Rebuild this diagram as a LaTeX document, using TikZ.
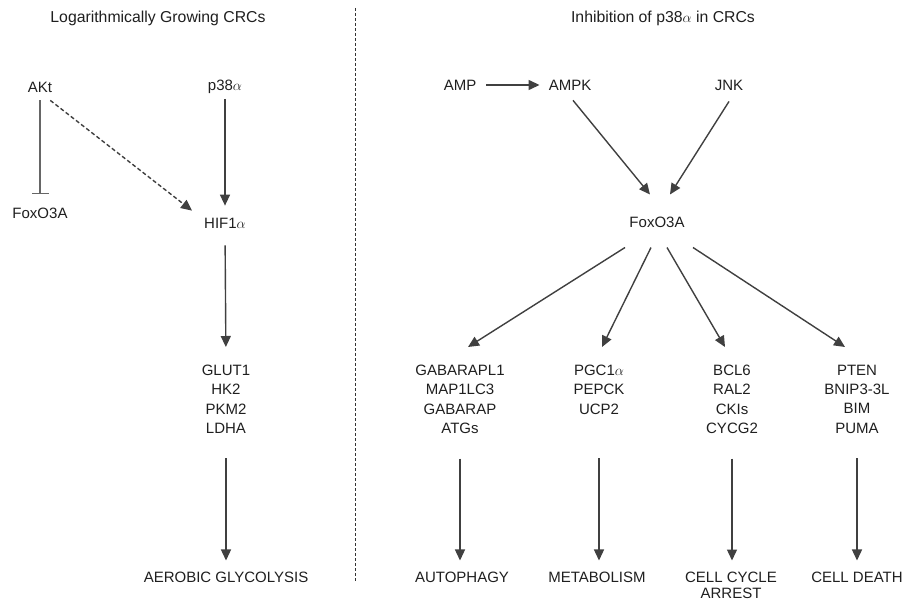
\documentclass[tikz,border=0pt]{standalone}
\usepackage{fontspec}
\setmainfont{Liberation Sans}
\usetikzlibrary{arrows.meta, positioning}

\begin{document}
\begin{tikzpicture}[x=1pt, y=-1pt,
      every node/.style={inner sep=0pt, text=black!88, font=\fontsize{15}{19.2}\selectfont},
      title/.style={font=\fontsize{15.8}{19}\selectfont},
      genelist/.style={align=center, anchor=north},
      arr/.style={-{Triangle[length=11pt, width=10pt]}, line width=1.4pt, draw=black!75},
      inh/.style={-{Bar[width=17pt, line width=1.4pt]}, line width=1.4pt, draw=black!60},
      divider/.style={draw=black!80, line width=0.8pt, dash pattern=on 3pt off 2pt}
    ]
    \useasboundingbox (0,0) rectangle (910,601);
    \node[title] (titleL) at (158,18) {Logarithmically Growing CRCs};
    \node[title] (titleR) at (663,18) {Inhibition of p38$\alpha$ in CRCs};
    \draw[divider] (355,8) -- (355,582);

    % growing cells
    \node (akt) at (40,87) {AKt};
    \node (p38) at (225,87) {p38$\alpha$};
    \node (foxL) at (40,213) {FoxO3A};
    \node (hif) at (225,223) {HIF1$\alpha$};
    \node[genelist] (glut) at (226,365) {GLUT1\\HK2\\PKM2\\LDHA};
    \node (aerobic) at (226,577) {AEROBIC GLYCOLYSIS};
    \draw[inh, shorten <=8pt, shorten >=13pt] (akt.south) -- (foxL.north);
    \draw[arr, dash pattern=on 4pt off 2.5pt] ([shift={(-2pt,-8pt)}]akt.south east) -- ([shift={(-12pt,7pt)}]hif.north west);
    \draw[arr, shorten <=5pt, shorten >=12pt] (p38.south) -- (hif.north);
    \draw[arr, shorten <=17pt, shorten >=18pt] (hif.south) -- (glut.north);
    \draw[arr, shorten <=25pt, shorten >=11pt] (glut.south) -- (aerobic.north);

    % p38 inhibited
    \node (amp) at (460,85) {AMP};
    \node (ampk) at (570,85) {AMPK};
    \node (jnk) at (729,85) {JNK};
    \node (fox) at (657,222) {FoxO3A};
    \node[genelist] (gab) at (460,365) {GABARAPL1\\MAP1LC3\\GABARAP\\ATGs};
    \node[genelist] (pgc) at (599,365) {PGC1$\alpha$\\PEPCK\\UCP2};
    \node[genelist] (bcl) at (732,365) {BCL6\\RAL2\\CKIs\\CYCG2};
    \node[genelist] (pten) at (857,365) {PTEN\\BNIP3-3L\\BIM\\PUMA};
    \node (autoph) at (462,577) {AUTOPHAGY};
    \node (metab) at (597,577) {METABOLISM};
    \node[genelist, font=\fontsize{15}{16.5}\selectfont] (cycle) at (731,571.5) {CELL CYCLE\\ARREST};
    \node (death) at (857,577) {CELL DEATH};

    \draw[arr, shorten <=10pt, shorten >=9pt] (amp.east) -- (ampk.west);
    \draw[arr] ([shift={(3pt,-10pt)}]ampk.south) -- ([shift={(-7pt,22pt)}]fox.north);
    \draw[arr] ([yshift=-11pt]jnk.south) -- ([shift={(13pt,22pt)}]fox.north);
    \draw[arr] ([shift={(-32pt,-20pt)}]fox.south) -- ([shift={(8pt,18pt)}]gab.north);
    \draw[arr] ([shift={(-6pt,-20pt)}]fox.south) -- ([shift={(3pt,18pt)}]pgc.north);
    \draw[arr] ([shift={(10pt,-20pt)}]fox.south) -- ([shift={(-7pt,18pt)}]bcl.north);
    \draw[arr] ([shift={(36pt,-20pt)}]fox.south) -- ([shift={(-12pt,18pt)}]pten.north);
    \foreach \from/\to/\gap in {gab/autoph/25pt, pgc/metab/44pt, bcl/cycle/25pt, pten/death/25pt}
      \draw[arr, shorten <=\gap, shorten >=11pt] (\from.south) -- (\from.south |- \to.north);
  \end{tikzpicture}
\end{document}
